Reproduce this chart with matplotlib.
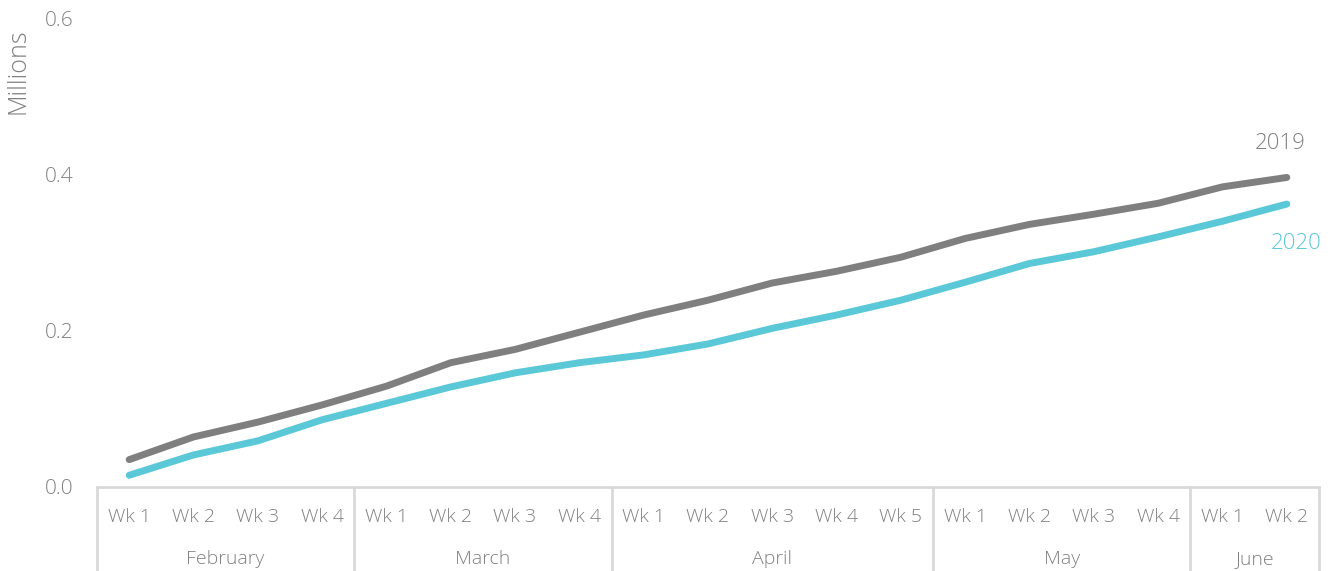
import matplotlib.pyplot as plt
import matplotlib.transforms as mtransforms

plt.rcParams['font.family'] = ['Open Sans', 'DejaVu Sans']

# Kumulierte Werte (Millionen) pro Woche
months = ["February", "March", "April", "May", "June"]
weeks_per_month = [4, 4, 5, 4, 2]
values_2019 = [0.035, 0.064, 0.083, 0.105, 0.129, 0.159, 0.176, 0.198, 0.220, 0.239,
               0.261, 0.276, 0.294, 0.318, 0.336, 0.349, 0.363, 0.384, 0.396]
values_2020 = [0.015, 0.041, 0.059, 0.086, 0.107, 0.128, 0.146, 0.159, 0.169, 0.183,
               0.203, 0.220, 0.239, 0.262, 0.286, 0.301, 0.320, 0.340, 0.362]

week_labels = []
for n in weeks_per_month:
    week_labels += ["Wk %d" % (i + 1) for i in range(n)]
x = list(range(len(week_labels)))

grey = "#7f7f7f"
cyan = "#5bc8d7"
text_grey = "#808080"
line_grey = "#d9d9d9"

fig = plt.figure(figsize=(13.34, 5.71), dpi=100)
ax = fig.add_axes([97 / 1334, 84 / 571, 1222 / 1334, 469 / 571])

ax.plot(x, values_2019, color=grey, linewidth=5, solid_capstyle='round', solid_joinstyle='round')
ax.plot(x, values_2020, color=cyan, linewidth=5, solid_capstyle='round', solid_joinstyle='round')

ax.set_xlim(-0.5, len(x) - 0.5)
ax.set_ylim(0, 0.6)
ax.set_yticks([0.0, 0.2, 0.4, 0.6])
ax.set_yticklabels(["0.0", "0.2", "0.4", "0.6"])
ax.tick_params(axis='y', length=0, pad=17, labelsize=15, labelcolor=text_grey)
ax.set_ylabel("Millions", fontsize=18, color=text_grey, fontweight='light')
ax.yaxis.set_label_coords(-0.0548, 0.887)
for lbl in ax.get_yticklabels():
    lbl.set_fontweight('light')

for s in ["top", "right", "left"]:
    ax.spines[s].set_visible(False)
ax.spines["bottom"].set_color(line_grey)
ax.spines["bottom"].set_linewidth(2)

# Wochenbeschriftung
ax.set_xticks(x)
ax.set_xticklabels(week_labels)
ax.tick_params(axis='x', length=0, pad=15, labelsize=14, labelcolor=text_grey)
for lbl in ax.get_xticklabels():
    lbl.set_fontweight('light')

# Monatsgruppen mit Trennlinien
trans = mtransforms.blended_transform_factory(ax.transData, ax.transAxes)
bottom = -84 / 469
start = 0
ax.plot([-0.5, -0.5], [0, bottom], transform=trans, color=line_grey, linewidth=2, clip_on=False)
for m, n in zip(months, weeks_per_month):
    end = start + n
    ax.plot([end - 0.5, end - 0.5], [0, bottom], transform=trans, color=line_grey, linewidth=2, clip_on=False)
    ax.text((start + end - 1) / 2, -72 / 469, m, transform=trans, ha='center', va='center',
            fontsize=14, color=text_grey, fontweight='light')
    start = end

# Serienbeschriftung am Ende
ax.text(x[-1] - 0.1, values_2019[-1] + 0.044, "2019", ha='center', va='center',
        fontsize=16, color=text_grey, fontweight='light')
ax.text(x[-1] + 0.15, values_2020[-1] - 0.05, "2020", ha='center', va='center',
        fontsize=16, color=cyan, fontweight='light')

fig.savefig("out.png", dpi=100)
